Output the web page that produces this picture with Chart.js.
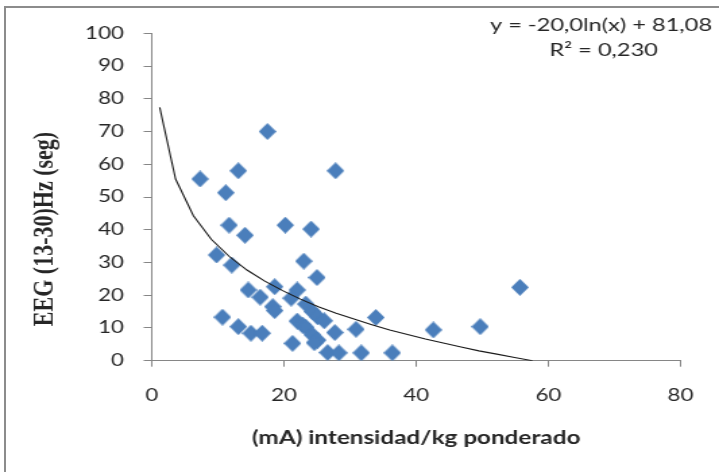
<!DOCTYPE html>
<html>
<head>
<meta charset="utf-8">
<script src="https://cdn.jsdelivr.net/npm/chart.js@4.4.1/dist/chart.umd.min.js"></script>
<style>
  html, body { margin: 0; padding: 0; background: #fff; }
  body { width: 719px; height: 472px; position: relative; overflow: hidden; }
  /* grey frame: only top + left edge are visible in the source picture */
  #frame { position: absolute; left: 4px; top: 6px; right: -10px; bottom: -10px;
           border-top: 2px solid #8c8c8c; border-left: 2px solid #8c8c8c; }
  /* the source image is stretched horizontally, so draw narrow and scale up */
  #stretch { position: absolute; left: 0; top: 0; width: 533px; height: 472px;
             transform: scaleX(1.349); transform-origin: 0 0; }
</style>
</head>
<body>
<div id="frame"></div>
<div id="stretch"><canvas id="chart"></canvas></div>

<script>
'use strict';

/* ============================================================
   DATA
   ============================================================ */
const xVals = [7.3, 17.5, 13.1, 27.8, 11.2, 11.7, 14.1, 20.2, 24.1, 9.8,
               12.1, 23.0, 25.0, 14.6, 18.6, 22.0, 16.4, 21.1, 18.3, 18.6,
               23.3, 24.3, 10.7, 13.1, 15.0, 16.7, 22.0, 22.8, 23.3, 25.1,
               26.1, 24.3, 25.1, 21.3, 27.7, 30.9, 33.9, 42.6, 49.7, 55.7,
               26.6, 28.3, 31.7, 36.4, 24.6];
const yVals = [55.5, 70.0, 58.0, 58.0, 51.3, 41.4, 38.3, 41.4, 40.2, 32.3,
               29.2, 30.4, 25.4, 21.6, 22.6, 21.6, 19.4, 19.1, 16.5, 15.3,
               17.3, 15.0, 13.3, 10.4, 8.4, 8.4, 12.1, 10.9, 10.2, 13.4,
               12.2, 7.9, 6.3, 5.3, 8.6, 9.6, 13.2, 9.4, 10.4, 22.4,
               2.5, 2.4, 2.4, 2.4, 5.5];

/* logarithmic trend line as drawn in the picture */
const trendX = [1.2, 3.6, 6.3, 9.0, 11.7, 14.4, 17.1, 19.8, 22.5, 25.2, 27.9,
                30.6, 33.3, 36.0, 38.7, 41.4, 44.1, 46.8, 49.5, 52.2, 54.9, 57.6];
const trendY = [77.4, 55.5, 44.3, 37.1, 31.9, 27.7, 24.3, 21.4, 18.8, 16.5, 14.5,
                12.7, 11.0, 9.4, 8.0, 6.6, 5.4, 4.2, 3.0, 2.0, 1.0, 0.0];

const xTicks = [0, 20, 40, 60, 80];
const yTicks = [0, 10, 20, 30, 40, 50, 60, 70, 80, 90, 100];

const eqLines = ['y = -20,0ln(x) + 81,08', 'R\u00B2 = 0,230'];
const xTitle  = '(mA) intensidad/kg ponderado';
const yTitle  = 'EEG (13-30)Hz (seg)';

/* ============================================================
   STYLE
   ============================================================ */
const MARKER = '#4A7EBB';
const AXIS   = '#868686';
const TEXT   = '#262626';

/* narrow diamond, becomes square after the horizontal stretch */
function makeDiamond(w, h, color) {
  const c = document.createElement('canvas');
  c.width = w; c.height = h;
  const g = c.getContext('2d');
  g.fillStyle = color;
  g.beginPath();
  g.moveTo(w / 2, 0);
  g.lineTo(w, h / 2);
  g.lineTo(w / 2, h);
  g.lineTo(0, h / 2);
  g.closePath();
  g.fill();
  return c;
}

/* equation label + rotated y title */
const textPlugin = {
  id: 'textPlugin',
  afterDraw(chart) {
    const ctx = chart.ctx;
    ctx.save();
    ctx.fillStyle = TEXT;
    ctx.textAlign = 'center';
    ctx.textBaseline = 'middle';
    ctx.font = '17.5px Lato';
    ctx.fillText(eqLines[0], 445.5, 25);
    ctx.fillText(eqLines[1], 447.5, 50);

    ctx.translate(33.4, 229);
    ctx.rotate(-Math.PI / 2);
    ctx.font = 'bold 22px "Liberation Serif"';
    ctx.fillText(yTitle, 0, 0);
    ctx.restore();
  }
};

/* ============================================================
   CHART
   ============================================================ */
function initChart() {
  const canvas = document.getElementById('chart');
  const points = xVals.map(function (x, i) { return { x: x, y: yVals[i] }; });
  const trend  = trendX.map(function (x, i) { return { x: x, y: trendY[i] }; });
  const tickFont = { family: 'Lato', size: 16.5 };

  new Chart(canvas, {
    type: 'scatter',
    data: {
      datasets: [
        {
          type       : 'line',
          data       : trend,
          borderColor: '#1a1a1a',
          borderWidth: 1.1,
          pointRadius: 0,
          tension    : 0,
          fill       : false,
          order      : 0
        },
        {
          data       : points,
          pointStyle : makeDiamond(13, 17, MARKER),
          pointRadius: 8,
          order      : 1
        }
      ]
    },
    options: {
      responsive         : true,
      maintainAspectRatio: false,
      animation          : false,
      layout  : { padding: { top: 33.3, right: 26.7, left: 0, bottom: 0 } },
      plugins : { legend: { display: false }, tooltip: { enabled: false } },
      scales: {
        x: {
          type  : 'linear',
          min   : xTicks[0],
          max   : xTicks[xTicks.length - 1],
          afterFit: function (s) { s.height = 111.3; },
          afterBuildTicks: function (s) { s.ticks = xTicks.map(function (v) { return { value: v }; }); },
          grid  : { drawOnChartArea: false, drawTicks: true, tickLength: 6, color: AXIS },
          border: { color: AXIS, width: 1 },
          ticks : { font: tickFont, color: TEXT, padding: 19, maxRotation: 0 },
          title : { display: true, text: xTitle, color: TEXT,
                    font: { family: 'Lato', size: 18, weight: 'bold' },
                    padding: { top: 0, bottom: 23.2 } }
        },
        y: {
          type  : 'linear',
          min   : yTicks[0],
          max   : yTicks[yTicks.length - 1],
          afterFit: function (s) { s.width = 112.5; },
          afterBuildTicks: function (s) { s.ticks = yTicks.map(function (v) { return { value: v }; }); },
          grid  : { drawOnChartArea: false, drawTicks: true, tickLength: 6, color: AXIS },
          border: { color: AXIS, width: 1 },
          ticks : { font: tickFont, color: TEXT, padding: 14.7 }
        }
      }
    },
    plugins: [textPlugin]
  });
}

document.addEventListener('DOMContentLoaded', initChart);
</script>
</body>
</html>
